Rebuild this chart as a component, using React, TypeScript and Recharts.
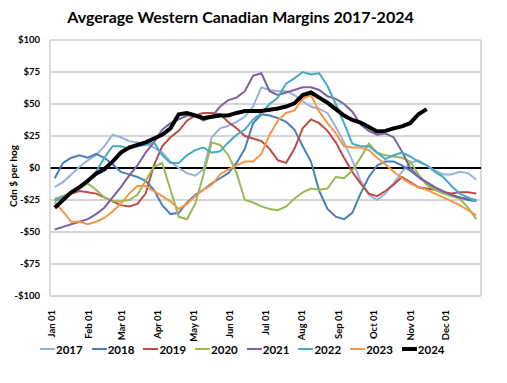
import React from 'react';
import { LineChart, Line, XAxis, YAxis, CartesianGrid, ReferenceLine, Legend } from 'recharts';

// Day-of-year of each weekly observation
const DAYS = [4, 11, 18, 25, 32, 39, 46, 53, 60, 67, 74, 81, 88, 95, 102, 109, 116, 123, 130, 137, 144, 151, 158, 165, 172, 179, 186, 193, 200, 207, 214, 221, 228, 235, 242, 249, 256, 263, 270, 277, 284, 291, 298, 305, 312, 319, 326, 333, 340, 347, 354, 361];

const Y2017 = [-15, -11, -5, 1, 6, 10, 17, 26, 24, 21, 20, 19, 16, 12, 5, 0, -4, -6, -1, 24, 31, 33, 36, 40, 48, 63, 61, 60, 60, 57, 52, 48, 46, 43, 32, 20, 6, -10, -21, -25, -20, -12, -3, 4, 6, 2, -2, -5, -5, -3, -4, -9];
const Y2018 = [-8, 4, 8, 10, 8, 11, 8, 3, -3, -5, -7, -10, -17, -29, -36, -35, -27, -21, -17, -12, -8, -4, 4, 15, 35, 42, 41, 39, 36, 30, 17, 5, -18, -32, -38, -40, -35, -20, -7, 2, 5, 5, 2, -2, -7, -12, -16, -19, -21, -23, -25, -26];
const Y2019 = [-25, -22, -20, -18, -19, -20, -23, -26, -29, -30, -28, -20, 2, 17, 24, 29, 37, 41, 43, 43, 42, 36, 31, 25, 23, 21, 15, 6, 4, 15, 31, 38, 35, 29, 20, 8, -3, -12, -20, -22, -18, -13, -7, -11, -15, -16, -17, -19, -20, -19, -19, -20];
const Y2020 = [-24, -22, -19, -16, -12, -17, -23, -26, -26, -25, -21, -10, 1, 4, -17, -38, -40, -28, -5, 20, 18, 10, -4, -25, -27, -30, -32, -33, -30, -24, -19, -16, -17, -16, -7, -8, -2, 8, 19, 12, 10, 9, 8, 5, -5, -13, -17, -20, -22, -24, -31, -40];
const Y2021 = [-48, -46, -44, -42, -40, -36, -31, -23, -15, -6, 2, 12, 20, 30, 35, 38, 41, 41, 37, 40, 48, 53, 55, 60, 72, 74, 60, 57, 59, 61, 63, 63, 61, 56, 54, 50, 44, 34, 29, 26, 27, 24, 13, 0, -7, -11, -15, -18, -21, -23, -24, -25];
const Y2022 = [-26, -23, -20, -16, -11, -3, 8, 17, 17, 15, 17, 18, 20, 10, 4, 4, 10, 14, 16, 12, 13, 20, 26, 30, 38, 43, 50, 55, 66, 70, 75, 73, 74, 64, 50, 35, 19, 17, 17, 12, 7, 10, 12, 9, 5, 2, -3, -7, -14, -20, -23, -26];
const Y2023 = [-27, -34, -42, -42, -44, -42, -39, -34, -28, -20, -14, -14, -18, -22, -26, -32, -28, -22, -17, -13, -5, -1, 2, 5, 5, 11, 26, 37, 43, 45, 54, 57, 44, 35, 27, 17, 16, 16, 14, 8, 3, -3, -8, -12, -15, -17, -20, -23, -26, -29, -33, -37];
const Y2024 = [-31, -25, -19, -15, -10, -4.5, -1, 5, 12, 16, 18, 20, 23, 26, 31, 42, 43, 41, 39, 40, 41, 41, 43, 44.5, 44.5, 44.5, 45.5, 46.5, 48, 50.5, 57, 59, 55, 51, 46, 41, 37.5, 35.5, 32, 28.5, 29, 31, 32.5, 35, 42, 46];

const MONTH_TICKS = [0, 31, 59, 90, 120, 151, 181, 212, 243, 273, 304, 334];
const MONTH_LABELS = ['Jan 01', 'Feb 01', 'Mar 01', 'Apr 01', 'May 01', 'Jun 01', 'Jul 01', 'Aug 01', 'Sep 01', 'Oct 01', 'Nov 01', 'Dec 01'];
const Y_TICKS = [-100, -75, -50, -25, 0, 25, 50, 75, 100];

const SERIES = [
  { key: '2017', values: Y2017, color: '#95B3D7', width: 2 },
  { key: '2018', values: Y2018, color: '#4A7EBB', width: 2 },
  { key: '2019', values: Y2019, color: '#BE4B48', width: 2 },
  { key: '2020', values: Y2020, color: '#98B954', width: 2 },
  { key: '2021', values: Y2021, color: '#7D60A0', width: 2 },
  { key: '2022', values: Y2022, color: '#46AAC5', width: 2 },
  { key: '2023', values: Y2023, color: '#F79646', width: 2 },
  { key: '2024', values: Y2024, color: '#000000', width: 4 },
];

const data = DAYS.map((d, i) => {
  const row: Record<string, number | null> = { day: d };
  SERIES.forEach((s) => {
    row[s.key] = i < s.values.length ? s.values[i] : null;
  });
  return row;
});

const FONT = 'Lato, "Open Sans", sans-serif';

const fmtDollar = (v: number) => (v < 0 ? `-$${Math.abs(v)}` : `$${v}`);

const XTick = (props: any) => {
  const { x, y, payload } = props;
  const idx = MONTH_TICKS.indexOf(payload.value);
  return (
    <g transform={`translate(${x},${y})`}>
      <text transform="rotate(-90)" x={-6} y={0} dy={5} textAnchor="end" fontSize={9.5} fontWeight="bold" fontFamily={FONT} fill="#000">
        {MONTH_LABELS[idx]}
      </text>
    </g>
  );
};

const renderLegend = () => (
  <div style={{ display: 'flex', paddingLeft: 40, fontFamily: FONT }}>
    {SERIES.map((s) => (
      <div key={s.key} style={{ width: 51.7, display: 'flex', alignItems: 'center', height: 18 }}>
        <span style={{ display: 'inline-block', width: 15, height: s.width, background: s.color }} />
        <span style={{ marginLeft: 1, fontSize: 11.5, fontWeight: 'bold', color: '#000' }}>{s.key}</span>
      </div>
    ))}
  </div>
);

export default function App() {
  return (
    <div style={{ position: 'absolute', left: 0, top: 0, width: 507, height: 383, background: '#fff' }}>
      <div style={{ position: 'absolute', left: 0, top: 7, width: 481, textAlign: 'center', fontFamily: FONT, fontWeight: 'bold', fontSize: 16, lineHeight: '20px', color: '#000' }}>
        Avgerage Western Canadian Margins 2017-2024
      </div>
      <LineChart width={507} height={383} data={data} margin={{ top: 40, right: 26, left: 0, bottom: 0 }}>
        <CartesianGrid horizontal vertical={false} stroke="#C8C8C8" strokeWidth={1.3} />
        <XAxis
          type="number"
          dataKey="day"
          domain={[0, 365]}
          ticks={MONTH_TICKS}
          tick={<XTick />}
          tickLine={false}
          axisLine={false}
          height={87}
          interval={0}
        />
        <YAxis
          domain={[-100, 100]}
          ticks={Y_TICKS}
          tickFormatter={fmtDollar}
          width={50}
          tickLine={false}
          axisLine={{ stroke: '#D0D0D0', strokeWidth: 1.5 }}
          tickMargin={4}
          interval={0}
          tick={{ fontSize: 9.5, fontWeight: 'bold', fontFamily: FONT, fill: '#000' }}
          label={{ value: 'Cdn $ per hog', angle: -90, position: 'center', dx: -12, dy: 8, style: { fontSize: 10, fontWeight: 'bold', fontFamily: FONT, fill: '#000', textAnchor: 'middle' } }}
        />
        <ReferenceLine x={365} stroke="#D9D9D9" strokeWidth={2} />
        <ReferenceLine y={100} stroke="#D9D9D9" strokeWidth={2} />
        <ReferenceLine y={0} stroke="#000" strokeWidth={2} />
        {SERIES.map((s) => (
          <Line
            key={s.key}
            type="linear"
            dataKey={s.key}
            stroke={s.color}
            strokeWidth={s.width}
            dot={false}
            activeDot={false}
            isAnimationActive={false}
            connectNulls={false}
          />
        ))}
        <Legend content={renderLegend} wrapperStyle={{ position: 'absolute', left: 0, top: 340, width: 507, height: 0, overflow: 'visible' }} />
      </LineChart>
    </div>
  );
}
